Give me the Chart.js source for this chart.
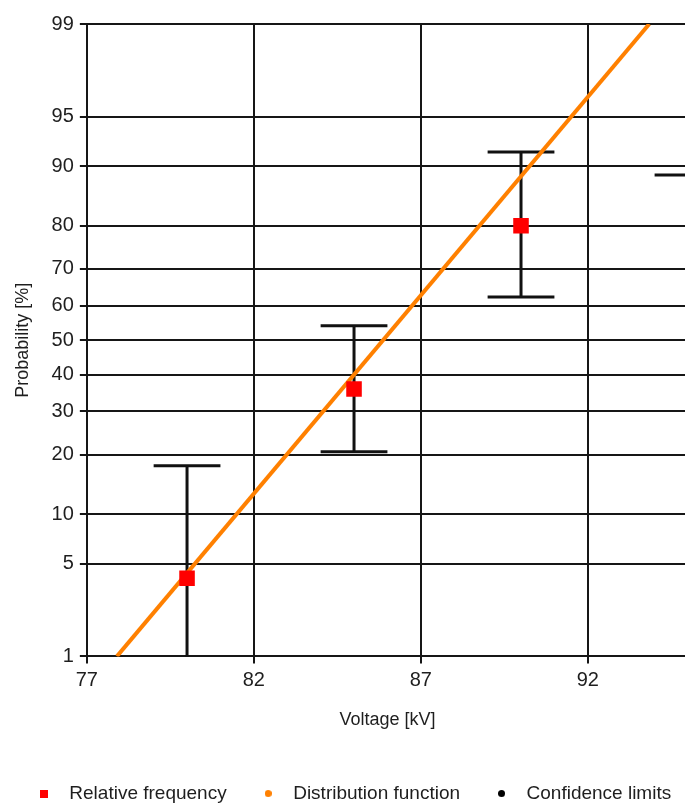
<!DOCTYPE html>
<html>
<head>
<meta charset="utf-8">
<script src="https://cdn.jsdelivr.net/npm/chart.js@4/dist/chart.umd.min.js"></script>
<style>
  html, body { margin: 0; padding: 0; background: #fff; overflow: hidden; }
  #wrap { width: 700px; height: 813px; }
</style>
</head>
<body>
<div id="wrap"><canvas id="chart" width="700" height="813"></canvas></div>
<script>
// Breakdown test: test voltage levels and observed breakdown frequency (%)
const VOLTAGE = [80, 85, 90, 95];
const REL_FREQ = [4, 36, 80, 100];
// Confidence limits of each frequency (%)
const CONF_LOW = [0.2, 20.6, 62.5, 88.8];
const CONF_HIGH = [17.8, 54.2, 91.7, 100];
// Fitted normal distribution, drawn as a straight line on the probability grid
const DIST_X = [77.9, 93.84];
const DIST_P = [1, 99];
// Axis ticks
const X_TICKS = [77, 82, 87, 92];
const P_TICKS = [1, 5, 10, 20, 30, 40, 50, 60, 70, 80, 90, 95, 99];

const CAP_HALF_KV = 1;
const GRID = '#161616';
const TEXT = '#1e1e1e';

// Inverse of the standard normal CDF (Acklam), input in percent
function probit(pct) {
  let p = pct / 100;
  if (p <= 1e-9) p = 1e-9;
  if (p >= 1 - 1e-9) p = 1 - 1e-9;
  const a = [-3.969683028665376e+01, 2.209460984245205e+02, -2.759285104469687e+02, 1.383577518672690e+02, -3.066479806614716e+01, 2.506628277459239e+00];
  const b = [-5.447609879822406e+01, 1.615858368580409e+02, -1.556989798598866e+02, 6.680131188771972e+01, -1.328068155288572e+01];
  const c = [-7.784894002430293e-03, -3.223964580411365e-01, -2.400758277161838e+00, -2.549671010243032e+00, 4.374664141464968e+00, 2.938163982698783e+00];
  const d = [7.784695709041462e-03, 3.224671290700398e-01, 2.445134137142996e+00, 3.754408661907416e+00];
  const pl = 0.02425;
  if (p < pl) {
    const q = Math.sqrt(-2 * Math.log(p));
    return (((((c[0]*q+c[1])*q+c[2])*q+c[3])*q+c[4])*q+c[5]) / ((((d[0]*q+d[1])*q+d[2])*q+d[3])*q+1);
  }
  if (p > 1 - pl) {
    const q = Math.sqrt(-2 * Math.log(1 - p));
    return -(((((c[0]*q+c[1])*q+c[2])*q+c[3])*q+c[4])*q+c[5]) / ((((d[0]*q+d[1])*q+d[2])*q+d[3])*q+1);
  }
  const q = p - 0.5, r = q * q;
  return (((((a[0]*r+a[1])*r+a[2])*r+a[3])*r+a[4])*r+a[5])*q / (((((b[0]*r+b[1])*r+b[2])*r+b[3])*r+b[4])*r+1);
}

// Standard normal CDF, returned in percent
function normCdf(z) {
  const t = 1 / (1 + 0.3275911 * Math.abs(z) / Math.SQRT2);
  const e = 1 - (((((1.061405429*t - 1.453152027)*t) + 1.421413741)*t - 0.284496736)*t + 0.254829592)*t * Math.exp(-z*z/2);
  return 50 * (1 + (z < 0 ? -e : e));
}

// Normal-probability axis: linear in z, labelled in percent
class ProbitScale extends Chart.Scale {
  parse(raw) { return raw == null ? null : +raw; }
  determineDataLimits() { this.min = this.options.min; this.max = this.options.max; }
  buildTicks() { return P_TICKS.map(v => ({ value: v })); }
  configure() {
    super.configure();
    this._zStart = probit(this.min);
    this._zRange = probit(this.max) - this._zStart;
  }
  getLabelForValue(v) { return String(v); }
  getPixelForValue(v) {
    if (v == null || isNaN(v)) return NaN;
    return this.getPixelForDecimal((probit(v) - this._zStart) / this._zRange);
  }
  getValueForPixel(px) { return normCdf(this._zStart + this.getDecimalForPixel(px) * this._zRange); }
  getPixelForTick(i) { return this.getPixelForValue(this.ticks[i].value); }
}
ProbitScale.id = 'probit';
ProbitScale.defaults = {};
Chart.register(ProbitScale);

// Small legend marks
function mark(kind, color, size) {
  const c = document.createElement('canvas');
  c.width = size; c.height = size;
  const g = c.getContext('2d');
  g.fillStyle = color;
  if (kind === 'square') g.fillRect(0, 0, size, size);
  else { g.beginPath(); g.arc(size / 2, size / 2, size / 2, 0, Math.PI * 2); g.fill(); }
  return c;
}
const LEGEND_MARKS = [mark('square', '#ff0000', 8), mark('dot', '#ff8000', 7), mark('dot', '#000000', 7)];

// Confidence limits: vertical bar with caps, clipped to the plot area
const errorBars = {
  id: 'errorBars',
  beforeDatasetsDraw(chart) {
    const { ctx, chartArea: a, scales: { x, y } } = chart;
    ctx.save();
    ctx.beginPath();
    ctx.rect(a.left, a.top, a.right - a.left, a.bottom - a.top);
    ctx.clip();
    ctx.strokeStyle = '#111';
    ctx.lineWidth = 3;
    VOLTAGE.forEach((v, i) => {
      const px = x.getPixelForValue(v);
      const lo = y.getPixelForValue(CONF_LOW[i]);
      const hi = y.getPixelForValue(CONF_HIGH[i]);
      const l = x.getPixelForValue(v - CAP_HALF_KV);
      const r = x.getPixelForValue(v + CAP_HALF_KV);
      ctx.beginPath();
      ctx.moveTo(px, lo); ctx.lineTo(px, hi);
      ctx.moveTo(l, lo); ctx.lineTo(r, lo);
      ctx.moveTo(l, hi); ctx.lineTo(r, hi);
      ctx.stroke();
    });
    ctx.restore();
  }
};

const font = (size) => ({ family: "'Liberation Sans', Arial, sans-serif", size });

new Chart(document.getElementById('chart'), {
  type: 'scatter',
  data: {
    datasets: [
      {
        label: 'Relative frequency',
        data: VOLTAGE.map((v, i) => ({ x: v, y: REL_FREQ[i] })),
        pointStyle: 'rect',
        pointRadius: 11,
        backgroundColor: '#ff0000',
        borderWidth: 0,
        order: 0
      },
      {
        label: 'Distribution function',
        data: DIST_X.map((v, i) => ({ x: v, y: DIST_P[i] })),
        showLine: true,
        borderColor: '#ff8000',
        backgroundColor: '#ff8000',
        borderWidth: 4,
        pointRadius: 0,
        order: 1
      },
      {
        label: 'Confidence limits',
        data: [],
        backgroundColor: '#000',
        borderColor: '#000',
        order: 2
      }
    ]
  },
  options: {
    responsive: false,
    animation: false,
    events: [],
    layout: { padding: { left: 0, top: 24, right: 0, bottom: 0 } },
    scales: {
      x: {
        type: 'linear',
        min: 77,
        max: 95,
        afterBuildTicks: (s) => { s.ticks = X_TICKS.map(v => ({ value: v })); },
        grid: { color: GRID, lineWidth: 2, tickLength: 7, tickColor: GRID },
        border: { color: GRID, width: 2 },
        ticks: { font: font(20), color: TEXT, padding: 5, maxRotation: 0 },
        title: { display: true, text: 'Voltage [kV]', font: font(18), color: TEXT, padding: { top: 12, bottom: 27 } }
      },
      y: {
        type: 'probit',
        min: 1,
        max: 99,
        grid: { color: GRID, lineWidth: 2, tickLength: 7, tickColor: GRID },
        border: { color: GRID, width: 2 },
        ticks: { font: font(20), color: TEXT, padding: 6 },
        title: { display: true, text: 'Probability [%]', font: font(18), color: TEXT, padding: { top: 12, bottom: 12 } }
      },
      // empty strip right of the plot area
      margin: {
        type: 'linear',
        position: 'right',
        grid: { display: false },
        border: { display: false },
        ticks: { display: false },
        afterFit: (s) => { s.width = 12; }
      }
    },
    plugins: {
      tooltip: { enabled: false },
      legend: {
        position: 'bottom',
        labels: {
          font: font(19),
          color: TEXT,
          usePointStyle: true,
          pointStyleWidth: 31,
          boxHeight: 8,
          padding: 26,
          generateLabels(chart) {
            const items = Chart.defaults.plugins.legend.labels.generateLabels(chart);
            items.forEach((it, i) => { it.pointStyle = LEGEND_MARKS[i]; });
            return items;
          }
        }
      }
    }
  },
  plugins: [errorBars]
});
</script>
</body>
</html>
